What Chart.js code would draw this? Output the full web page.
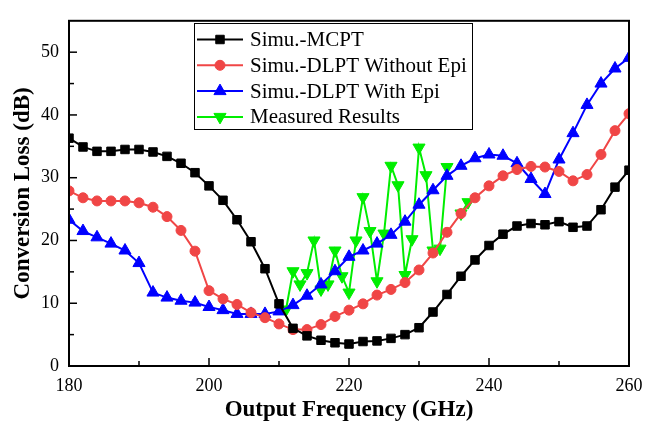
<!DOCTYPE html>
<html>
<head>
<meta charset="utf-8">
<script src="https://cdn.jsdelivr.net/npm/chart.js@4.4.0/dist/chart.umd.min.js"></script>
<style>
  body { margin: 0; background: #fff; }
</style>
</head>
<body>
<canvas id="loss" width="658" height="430"></canvas>
<script>
// simulated curves, 2 GHz steps
const freq = [180,182,184,186,188,190,192,194,196,198,200,202,204,206,208,210,212,214,216,218,
              220,222,224,226,228,230,232,234,236,238,240,242,244,246,248,250,252,254,256,258,260];
const mcpt = [36.3,34.9,34.2,34.2,34.5,34.5,34.1,33.4,32.3,30.8,28.7,26.4,23.3,19.8,15.5,9.9,6.0,4.8,4.1,3.7,
              3.5,3.9,4.0,4.4,5.0,6.1,8.6,11.4,14.3,16.9,19.2,21.0,22.3,22.7,22.5,23.0,22.1,22.3,24.9,28.5,31.2];
const dlptNoEpi = [27.9,26.8,26.3,26.3,26.3,26.0,25.3,23.8,21.6,18.3,12.0,10.7,9.8,8.5,7.7,6.7,5.8,5.8,6.6,7.9,
                   8.9,9.9,11.3,12.2,13.3,15.3,18.0,21.3,24.3,26.8,28.7,30.3,31.3,31.8,31.7,31.0,29.5,30.5,33.7,37.5,40.2];
const dlptEpi = [23.3,21.5,20.5,19.5,18.4,16.4,11.7,10.9,10.4,10.1,9.4,8.9,8.3,8.3,8.3,8.7,9.7,11.2,13.0,15.1,
                 17.4,18.4,19.5,20.9,23.0,25.7,28.0,30.3,31.9,33.1,33.7,33.5,32.3,29.8,27.4,32.9,37.1,41.6,45.0,47.4,49.1];

// measured points (null = break in the line)
const measFreq = [211,212,213,214,215,216,217,218,219,220,221,222,223,224,225,226,227,228,229,230,231,232,233,234,235,236,237];
const measLoss = [9.0,15.1,13.0,14.8,20.0,12.2,13.0,18.4,14.3,11.7,20.0,26.9,21.5,13.5,21.1,31.9,28.8,14.5,20.2,34.8,30.4,18.4,18.7,31.7,null,24.3,26.1];

const xTicks = [180,200,220,240,260];
const xMinor = [190,210,230,250];
const yTicks = [0,10,20,30,40,50];
const yMinor = [5,15,25,35,45];

const serif = "'Liberation Serif', 'Times New Roman', serif";

function pts(xs, ys) {
  return xs.map((v, i) => ({x: v, y: ys[i]}));
}

function series(label, xs, ys, color, style, radius, rotation) {
  return {
    label: label,
    data: pts(xs, ys),
    borderColor: color,
    backgroundColor: color,
    pointBackgroundColor: color,
    pointBorderColor: color,
    borderWidth: 2,
    pointStyle: style,
    pointRadius: radius,
    pointRotation: rotation || 0,
    pointBorderWidth: 1,
    tension: 0,
    spanGaps: false
  };
}

const datasets = [
  series('Simu.-MCPT', freq, mcpt, '#000000', 'rect', 6),
  series('Simu.-DLPT Without Epi', freq, dlptNoEpi, '#f04646', 'circle', 5),
  series('Simu.-DLPT With Epi', freq, dlptEpi, '#0000ff', 'triangle', 7),
  series('Measured Results', measFreq, measLoss, '#00ee00', 'triangle', 7, 180)
];

// inward ticks + box frame
const frameTicks = {
  id: 'frameTicks',
  afterDatasetsDraw(chart) {
    const {ctx, chartArea: a} = chart;
    const x = chart.scales.x, y = chart.scales.y;
    ctx.save();
    ctx.strokeStyle = '#000';
    ctx.lineWidth = 1.5;
    function seg(x1, y1, x2, y2) {
      ctx.beginPath(); ctx.moveTo(x1, y1); ctx.lineTo(x2, y2); ctx.stroke();
    }
    xTicks.forEach(v => { const p = x.getPixelForValue(v); seg(p, a.bottom, p, a.bottom - 8); });
    xMinor.forEach(v => { const p = x.getPixelForValue(v); seg(p, a.bottom, p, a.bottom - 5); });
    yTicks.forEach(v => { const p = y.getPixelForValue(v); seg(a.left, p, a.left + 8, p); });
    yMinor.forEach(v => { const p = y.getPixelForValue(v); seg(a.left, p, a.left + 5, p); });
    ctx.lineWidth = 2;
    ctx.strokeRect(a.left, a.top, a.right - a.left, a.bottom - a.top);
    ctx.restore();
  }
};

// legend box inside the plot
const boxLegend = {
  id: 'boxLegend',
  afterDraw(chart) {
    const ctx = chart.ctx;
    ctx.save();
    ctx.lineWidth = 1;
    ctx.strokeStyle = '#000';
    ctx.fillStyle = '#fff';
    ctx.fillRect(194.5, 23.5, 278, 106);
    ctx.strokeRect(194.5, 23.5, 278, 106);
    chart.data.datasets.forEach((ds, i) => {
      const yy = 39.5 + i * 25.8;
      ctx.strokeStyle = ds.borderColor;
      ctx.lineWidth = 2;
      ctx.beginPath(); ctx.moveTo(197, yy); ctx.lineTo(243, yy); ctx.stroke();
      ctx.fillStyle = ds.borderColor;
      ctx.lineWidth = 1;
      Chart.helpers.drawPoint(ctx, {
        pointStyle: ds.pointStyle, rotation: ds.pointRotation,
        radius: ds.pointRadius, borderWidth: 1
      }, 220, yy);
      ctx.fillStyle = '#000';
      ctx.font = '21px ' + serif;
      ctx.textBaseline = 'middle';
      ctx.textAlign = 'left';
      ctx.fillText(ds.label, 250, yy + 1);
    });
    ctx.restore();
  }
};

new Chart(document.getElementById('loss'), {
  type: 'line',
  data: { datasets: datasets },
  options: {
    responsive: false,
    animation: false,
    layout: { padding: { left: 0, top: 10, right: 29, bottom: 0 } },
    plugins: { legend: { display: false }, tooltip: { enabled: false } },
    scales: {
      x: {
        type: 'linear',
        min: 180, max: 260,
        afterBuildTicks: s => { s.ticks = xTicks.map(v => ({value: v})); },
        afterFit: s => { s.height = 64; },
        grid: { display: false, drawTicks: false },
        border: { display: false },
        ticks: { color: '#000', padding: 9, font: { family: serif, size: 18 }, maxRotation: 0 },
        title: {
          display: true, text: 'Output Frequency (GHz)', color: '#000',
          font: { family: serif, size: 23, weight: 'bold' },
          padding: { top: 0, bottom: 6 }
        }
      },
      y: {
        min: 0, max: 55,
        afterBuildTicks: s => { s.ticks = yTicks.map(v => ({value: v})); },
        afterFit: s => { s.width = 69; },
        grid: { display: false, drawTicks: false },
        border: { display: false },
        ticks: { color: '#000', padding: 10, font: { family: serif, size: 18 } },
        title: {
          display: true, text: 'Conversion Loss (dB)', color: '#000',
          font: { family: serif, size: 23, weight: 'bold' },
          padding: { top: 9, bottom: 0 }
        }
      }
    }
  },
  plugins: [frameTicks, boxLegend]
});
</script>
</body>
</html>
